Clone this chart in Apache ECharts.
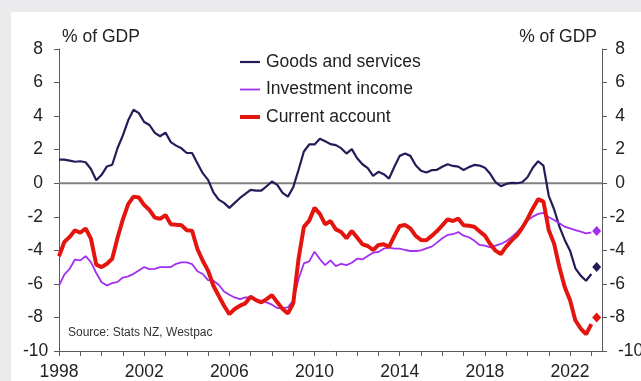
<!DOCTYPE html>
<html>
<head>
<meta charset="utf-8">
<script src="https://cdn.jsdelivr.net/npm/echarts@6/dist/echarts.min.js"></script>
<style>
  html, body { margin: 0; padding: 0; background: #ebebed; }
  #panel { position: absolute; left: 11px; top: 12px; width: 630px; height: 369px; background: #ffffff; }
  #chart { position: absolute; left: 0; top: 0; width: 641px; height: 381px; }
</style>
</head>
<body>
<div id="panel"></div>
<div id="chart"></div>
<script>
// Quarterly series, % of GDP, first quarter plotted at 1998.0
const startYear = 1998;
const quarterStep = 0.25;

const goodsAndServices = [
  1.41, 1.41, 1.35, 1.28, 1.31, 1.25, 0.85, 0.18, 0.50, 1.00,
  1.10, 2.10, 2.85, 3.75, 4.38, 4.18, 3.65, 3.47, 3.00, 2.80,
  3.02, 2.45, 2.24, 2.08, 1.80, 1.80, 1.19, 0.60, 0.20, -0.54,
  -0.98, -1.17, -1.47, -1.17, -0.88, -0.64, -0.40, -0.44, -0.44, -0.18,
  0.10, -0.10, -0.58, -0.80, -0.24, 0.80, 1.89, 2.31, 2.31, 2.65,
  2.50, 2.33, 2.27, 2.09, 1.77, 2.03, 1.49, 1.13, 0.90, 0.44,
  0.68, 0.54, 0.28, 0.98, 1.63, 1.77, 1.63, 1.07, 0.74, 0.64,
  0.78, 0.80, 0.98, 1.13, 1.03, 0.99, 0.79, 0.96, 1.09, 1.05,
  0.92, 0.56, 0.06, -0.18, -0.04, 0.02, 0.00, 0.06, 0.36, 0.92,
  1.31, 1.05, -0.75, -1.55, -2.59, -3.38, -4.02, -5.07, -5.51, -5.81,
  -5.41
];

const investmentIncome = [
  -6.10, -5.45, -5.10, -4.55, -4.60, -4.35, -4.70, -5.35, -5.90, -6.10,
  -5.95, -5.88, -5.62, -5.55, -5.40, -5.20, -5.00, -5.12, -5.10, -5.00,
  -5.00, -5.00, -4.80, -4.72, -4.72, -4.82, -5.25, -5.41, -5.77, -5.81,
  -6.05, -6.45, -6.65, -6.81, -6.91, -6.81, -6.81, -7.00, -7.00, -7.10,
  -7.24, -7.44, -7.44, -7.40, -7.00, -5.71, -4.78, -4.66, -4.08, -4.52,
  -4.88, -4.60, -4.94, -4.80, -4.88, -4.74, -4.50, -4.54, -4.34, -4.14,
  -4.10, -3.90, -3.84, -3.90, -3.90, -3.98, -4.04, -4.04, -4.00, -3.88,
  -3.78, -3.54, -3.28, -3.08, -3.04, -2.91, -3.13, -3.22, -3.42, -3.68,
  -3.72, -3.82, -3.72, -3.62, -3.46, -3.22, -2.93, -2.59, -2.23, -1.99,
  -1.83, -1.77, -2.03, -2.19, -2.39, -2.59, -2.69, -2.79, -2.89, -2.99,
  -2.93
];

const currentAccount = [
  -4.35, -3.50, -3.20, -2.80, -2.95, -2.70, -3.30, -4.85, -5.00, -4.80,
  -4.50, -3.25, -2.15, -1.25, -0.80, -0.85, -1.30, -1.60, -2.05, -2.12,
  -1.90, -2.45, -2.48, -2.50, -2.80, -2.83, -3.92, -4.62, -5.21, -6.11,
  -6.71, -7.30, -7.80, -7.50, -7.30, -7.16, -6.77, -6.97, -7.10, -6.91,
  -6.67, -7.10, -7.50, -7.76, -7.16, -4.50, -2.60, -2.23, -1.47, -1.83,
  -2.45, -2.25, -2.75, -2.91, -3.28, -2.85, -3.24, -3.64, -3.74, -3.98,
  -3.68, -3.64, -3.80, -3.14, -2.55, -2.49, -2.69, -3.14, -3.38, -3.40,
  -3.14, -2.85, -2.51, -2.15, -2.25, -2.11, -2.50, -2.53, -2.59, -2.87,
  -3.12, -3.62, -4.02, -4.22, -3.78, -3.42, -3.12, -2.67, -2.13, -1.50,
  -0.95, -1.10, -2.80, -3.60, -5.01, -6.19, -6.98, -8.18, -8.66, -9.00,
  -8.40
];

// Latest single-quarter readings, shown as diamonds
const latestQuarter = 2023.25;
const latestGoods = -5.0;
const latestInvestment = -2.85;
const latestCurrent = -8.0;

// Axis settings
const xMin = 1998, xMax = 2023.5, xLabelStep = 4;
const yMin = -10, yMax = 8, yStep = 2;

const seriesNames = ['Goods and services', 'Investment income', 'Current account'];
const unitLabel = '% of GDP';
const sourceNote = 'Source: Stats NZ, Westpac';

const NAVY = '#221d58';
const PURPLE = '#a22ff0';
const RED = '#e4150f';
const TEXT = '#222222';
const AXIS = '#5a5a5a';
const FONT = '"Liberation Sans", Arial, sans-serif';
const FS = 17.5;

const toPoints = arr => arr.map((v, i) => [startYear + i * quarterStep, v]);

const chart = echarts.init(document.getElementById('chart'), null, { renderer: 'canvas' });

const baseAxisLine = { show: true, lineStyle: { color: AXIS, width: 1 } };
const baseTick = { show: true, inside: false, length: 5, lineStyle: { color: AXIS, width: 1 } };
const labelFont = { color: TEXT, fontSize: FS, fontFamily: FONT };

const option = {
  backgroundColor: 'transparent',
  animation: false,
  textStyle: { fontFamily: FONT },
  title: {
    text: sourceNote,
    left: 68, top: 327, padding: 0,
    textStyle: { color: '#333333', fontSize: 12, fontWeight: 'normal', fontFamily: FONT }
  },
  legend: {
    data: seriesNames,
    orient: 'vertical',
    left: 238, top: 53, padding: 0,
    itemWidth: 20, itemHeight: 12, itemGap: 9.5,
    lineStyle: { width: 'inherit' },
    itemStyle: { color: 'rgba(0,0,0,0)', borderWidth: 0, opacity: 0 },
    textStyle: Object.assign({ padding: [0, 0, 0, 1] }, labelFont),
    selectedMode: false
  },
  grid: { left: 59, right: 39, top: 49, bottom: 30, containLabel: false, outerBoundsMode: 'none' },
  xAxis: {
    type: 'value',
    min: xMin, max: xMax, interval: 1,
    axisLine: Object.assign({ onZero: false }, baseAxisLine),
    axisTick: baseTick,
    splitLine: { show: false },
    axisLabel: Object.assign({
      margin: 12,
      showMaxLabel: false,
      formatter: v => ((v - xMin) % xLabelStep === 0 ? String(v) : '')
    }, labelFont)
  },
  yAxis: [
    {
      type: 'value', position: 'left',
      min: yMin, max: yMax, interval: yStep,
      name: unitLabel, nameLocation: 'end', nameGap: 12,
      nameTextStyle: Object.assign({ align: 'left', verticalAlign: 'middle', padding: [0, 0, 0, 3] }, labelFont),
      axisLine: baseAxisLine, axisTick: baseTick, splitLine: { show: false },
      axisLabel: Object.assign({
        margin: 16, align: 'right',
        formatter: v => (v === yMin ? '{low|' + v + '}' : String(v)),
        rich: { low: Object.assign({ width: 20, align: 'left' }, labelFont) }
      }, labelFont)
    },
    {
      type: 'value', position: 'right',
      min: yMin, max: yMax, interval: yStep,
      name: unitLabel, nameLocation: 'end', nameGap: 12,
      nameTextStyle: Object.assign({ align: 'right', verticalAlign: 'middle', padding: [0, 5, 0, 0] }, labelFont),
      axisLine: baseAxisLine, axisTick: baseTick, splitLine: { show: false },
      axisLabel: Object.assign({
        margin: 9,
        formatter: v => (v === yMin ? '{low|' + v + '}' : '{r|' + v + '}'),
        rich: {
          r: Object.assign({ width: 14, align: 'right' }, labelFont),
          low: Object.assign({ width: 14, align: 'left', padding: [0, 0, 0, 7] }, labelFont)
        }
      }, labelFont)
    }
  ],
  series: [
    {
      name: 'zero',
      type: 'line',
      data: [[xMin, 0], [xMax, 0]],
      symbol: 'none',
      lineStyle: { color: '#808080', width: 2 },
      silent: true,
      z: 1
    },
    {
      name: seriesNames[0],
      type: 'line',
      data: toPoints(goodsAndServices),
      symbol: 'none',
      color: NAVY,
      lineStyle: { color: NAVY, width: 2.2 },
      z: 3
    },
    {
      name: seriesNames[1],
      type: 'line',
      data: toPoints(investmentIncome),
      symbol: 'none',
      color: PURPLE,
      lineStyle: { color: PURPLE, width: 1.8 },
      z: 3
    },
    {
      name: seriesNames[2],
      type: 'line',
      data: toPoints(currentAccount),
      symbol: 'none',
      color: RED,
      lineStyle: { color: RED, width: 4 },
      z: 3
    },
    {
      name: 'latest',
      type: 'scatter',
      symbol: 'diamond',
      symbolSize: [9, 10],
      itemStyle: { opacity: 1 },
      data: [
        { value: [latestQuarter, latestInvestment], itemStyle: { color: PURPLE, opacity: 1 } },
        { value: [latestQuarter, latestGoods], itemStyle: { color: NAVY, opacity: 1 } },
        { value: [latestQuarter, latestCurrent], itemStyle: { color: RED, opacity: 1 } }
      ],
      z: 4
    }
  ]
};

chart.setOption(option);
</script>
</body>
</html>
